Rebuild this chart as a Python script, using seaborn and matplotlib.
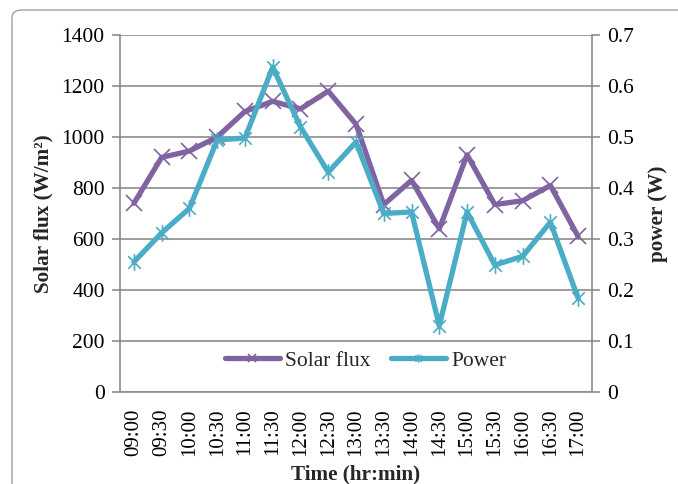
import matplotlib
matplotlib.use("Agg")
import matplotlib.pyplot as plt
import seaborn as sns
import pandas as pd
import numpy as np
from matplotlib.path import Path
from matplotlib.patches import FancyBboxPatch
from matplotlib.lines import Line2D

times = ["09:00", "09:30", "10:00", "10:30", "11:00", "11:30", "12:00", "12:30",
         "13:00", "13:30", "14:00", "14:30", "15:00", "15:30", "16:00", "16:30", "17:00"]
solar_flux = [740, 920, 945, 1000, 1100, 1140, 1110, 1180, 1050, 735, 830, 640, 930, 735, 750, 810, 610]
power = [0.255, 0.312, 0.360, 0.494, 0.498, 0.637, 0.520, 0.431, 0.490, 0.350, 0.353, 0.130, 0.353, 0.249, 0.266, 0.333, 0.184]

purple = "#8064A2"
cyan = "#4BACC6"
grid_c = "#8C8C8C"

sns.set_theme(style="white")
plt.rcParams["font.family"] = ["Liberation Serif", "DejaVu Serif"]

df = pd.DataFrame({"x": np.arange(len(times)), "time": times, "flux": solar_flux, "power": power})

star = Path([(0, -1), (0, 1), (-0.75, -0.75), (0.75, 0.75), (-0.75, 0.75), (0.75, -0.75)],
            [Path.MOVETO, Path.LINETO, Path.MOVETO, Path.LINETO, Path.MOVETO, Path.LINETO])

fig = plt.figure(figsize=(6.78, 4.84), dpi=100)
frame = FancyBboxPatch((12 / 678, -0.05), 1.0, 1.05 - 10 / 484,
                       boxstyle="round,pad=0,rounding_size=0.015",
                       transform=fig.transFigure, fill=False, edgecolor="#A0A0A0", linewidth=1.0)
fig.patches.append(frame)

ax = fig.add_axes([120 / 678, (484 - 392) / 484, (592 - 120) / 678, (392 - 35) / 484])
ax2 = ax.twinx()

sns.lineplot(data=df, x="x", y="flux", ax=ax, color=purple, linewidth=3.8,
             marker="x", markersize=12, markeredgewidth=1.2, markeredgecolor=purple, zorder=3)
sns.lineplot(data=df, x="x", y="power", ax=ax2, color=cyan, linewidth=3.8,
             marker=star, markersize=12, markeredgewidth=1.2, markeredgecolor=cyan, zorder=3)

ax.set_xlim(-0.5, len(times) - 0.5)
ax.set_ylim(0, 1400)
ax2.set_ylim(0, 0.7)
ax.set_yticks(np.arange(0, 1401, 200))
ax2.set_yticks(np.arange(0, 0.71, 0.1))
ax2.set_yticklabels(["0"] + [f"{v:.1f}" for v in np.arange(0.1, 0.71, 0.1)])
ax.set_xticks(np.arange(len(times)))
ax.set_xticklabels(times, rotation=90)

ax.yaxis.grid(True, color=grid_c, linewidth=1.2)
ax.set_axisbelow(True)
ax.xaxis.grid(False)
ax2.grid(False)

for a in (ax, ax2):
    for s in a.spines.values():
        s.set_color(grid_c)
        s.set_linewidth(1.2)
    a.spines["top"].set_visible(False)
ax2.spines["left"].set_visible(False)
ax2.spines["bottom"].set_visible(False)
ax.spines["right"].set_visible(False)

ax.tick_params(axis="y", which="both", left=True, length=6, width=1.2, color=grid_c,
               labelsize=15.5, labelcolor="black", pad=5)
ax2.tick_params(axis="y", which="both", right=True, length=6, width=1.2, color=grid_c,
                labelsize=15.5, labelcolor="black", pad=5)
ax.tick_params(axis="x", bottom=False, labelsize=15, labelcolor="black", pad=6)

ax.set_xlabel("Time (hr:min)", fontsize=15.2, fontweight="bold", labelpad=6)
ax.set_ylabel("Solar flux (W/m²)", fontsize=15.2, fontweight="bold", labelpad=6)
ax2.set_ylabel("power (W)", fontsize=15.2, fontweight="bold", labelpad=10)

handles = [Line2D([], [], color=purple, linewidth=3.8, marker="x", markersize=6, markeredgewidth=1.2),
           Line2D([], [], color=cyan, linewidth=3.8, marker=star, markersize=6, markeredgewidth=1.2)]
ax2.legend(handles, ["Solar flux", "Power"], loc="center", bbox_to_anchor=(0.52, 0.087),
           ncol=2, frameon=False, fontsize=15.5, handlelength=2.55, handletextpad=0.25,
           columnspacing=0.95)

fig.savefig("out.png", dpi=100)
